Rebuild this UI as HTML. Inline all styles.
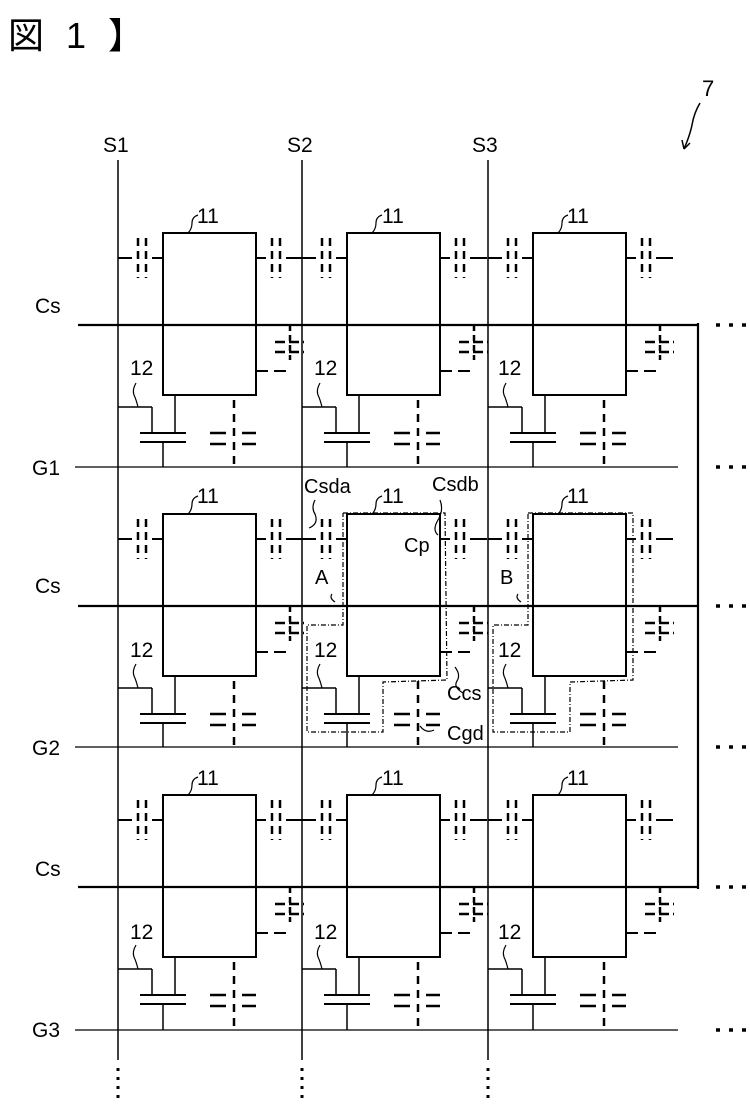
<!DOCTYPE html>
<html><head><meta charset="utf-8"><style>
html,body{margin:0;padding:0;background:#fff;width:750px;height:1105px;overflow:hidden}
svg text{font-family:"Liberation Sans","Noto Sans CJK JP",sans-serif;fill:#000}
</style></head><body>
<svg id="s" width="750" height="1105" viewBox="0 0 750 1105" xmlns="http://www.w3.org/2000/svg">
<text x="8" y="48" font-size="36" letter-spacing="6">図 1 】</text>
<text x="702" y="96" font-size="22">7</text>
<path d="M700 103 q-6 10 -8 22 q-2 10 -8 24 M684 149 l-2 -9 M684 149 l6 -6" stroke="#000" fill="none" stroke-width="1.5"/>
<text x="103" y="152" font-size="21">S1</text>
<text x="287" y="152" font-size="21">S2</text>
<text x="472" y="152" font-size="21">S3</text>
<text x="35" y="313" font-size="21">Cs</text>
<text x="35" y="593" font-size="21">Cs</text>
<text x="35" y="876" font-size="21">Cs</text>
<text x="32" y="475" font-size="21">G1</text>
<text x="32" y="755" font-size="21">G2</text>
<text x="32" y="1037" font-size="21">G3</text>
<text x="304" y="493" font-size="20">Csda</text>
<text x="432" y="491" font-size="20">Csdb</text>
<text x="404" y="552" font-size="20">Cp</text>
<text x="315" y="584" font-size="20">A</text>
<text x="500" y="584" font-size="20">B</text>
<text x="447" y="700" font-size="20">Ccs</text>
<text x="447" y="740" font-size="20">Cgd</text>
<text x="197" y="223" font-size="21">11</text><text x="382" y="223" font-size="21">11</text><text x="567" y="223" font-size="21">11</text>
<text x="197" y="503" font-size="21">11</text><text x="382" y="503" font-size="21">11</text><text x="567" y="503" font-size="21">11</text>
<text x="197" y="785" font-size="21">11</text><text x="382" y="785" font-size="21">11</text><text x="567" y="785" font-size="21">11</text>
<text x="130" y="375" font-size="21">12</text><text x="314" y="375" font-size="21">12</text><text x="498" y="375" font-size="21">12</text>
<text x="130" y="657" font-size="21">12</text><text x="314" y="657" font-size="21">12</text><text x="498" y="657" font-size="21">12</text>
<text x="130" y="939" font-size="21">12</text><text x="314" y="939" font-size="21">12</text><text x="498" y="939" font-size="21">12</text>
<g id="g" stroke="#000" fill="none"></g>
</svg>
<script>
var g=document.getElementById('g'),h='';
function L(x1,y1,x2,y2,w,d){h+='<line x1="'+x1+'" y1="'+y1+'" x2="'+x2+'" y2="'+y2+'" stroke-width="'+(w||1.5)+'"'+(d?' stroke-dasharray="'+d+'"':'')+'/>';}
var S=[118,302,488],CS=[325,606,887],G=[467,747,1030];
S.forEach(function(x){L(x,160,x,1060,1.5);L(x,1068,x,1098,3,'3 6');});
CS.forEach(function(y){L(78,y,698,y,2.2);});
L(698,323,698,889,2.2);
G.forEach(function(y){L(75,y,678,y,1.3);});
[325,467,606,747,887,1030].forEach(function(y){L(716,y,746,y,3.5,'4 9');});
for(var r=0;r<3;r++)for(var c=0;c<3;c++){
 var X=S[c],C=CS[r],Gy=G[r],bl=X+45,br=X+138,bt=C-92,bb=C+70;
 h+='<rect x="'+bl+'" y="'+bt+'" width="'+(br-bl)+'" height="'+(bb-bt)+'" stroke-width="2"/>';
 var cy=C-67;
 L(X,cy,X+14,cy,2);L(X+20,bt+5,X+20,bt+45,2.5,'8 5');L(X+28,bt+5,X+28,bt+45,2.5,'8 5');L(X+34,cy,bl,cy,2);
 L(br,cy,br+10,cy,2);L(br+16,bt+5,br+16,bt+45,2.5,'8 5');L(br+24,bt+5,br+24,bt+45,2.5,'8 5');L(br+30,cy,X+185,cy,2);
 h+='<path d="M'+(bl+25)+' '+bt+' q4 -4 4 -10 q0 -6 6 -8" stroke-width="1.2"/>';
 var cx=X+172;L(cx,C,cx,C+35,2.5,'6 4');L(X+157,C+17,X+186,C+17,2.5,'10 4');L(X+157,C+27,X+186,C+27,2.5,'10 4');
 L(br,C+46,br+12,C+46,2);L(br+18,C+46,br+30,C+46,2);
 var tp=C+108,bp=C+117;
 L(X+57,bb,X+57,tp,1.5);L(X+22,tp,X+68,tp,2);L(X+22,bp,X+68,bp,2);L(X+45,bp,X+45,Gy,1.5);
 L(X,C+82,X+34,C+82,1.5);L(X+34,C+82,X+34,tp,1.5);
 h+='<path d="M'+(X+20)+' '+(C+82)+' q-2 -8 -4 -12 q-2 -5 2 -12" stroke-width="1.2"/>';
 var gx=X+116;L(gx,bb+5,gx,Gy,2.5,'8 6');L(X+92,tp,X+108,tp,2.5);L(X+124,tp,X+138,tp,2.5);L(X+92,tp+11,X+108,tp+11,2.5);L(X+124,tp+11,X+138,tp+11,2.5);
}
var dd='5 2 1 2';
h+='<polyline points="343,513 445,513 447,680 383,682 383,732 307,732 307,625 343,625 343,513" stroke-width="1.2" stroke-dasharray="'+dd+'"/>';
h+='<polyline points="528,513 633,513 633,680 570,682 570,732 493,732 493,625 528,625 528,513" stroke-width="1.2" stroke-dasharray="'+dd+'"/>';
h+='<path d="M315 500 q-4 8 0 14 q4 10 -6 14 M440 500 q4 10 -2 20 q-6 10 0 15 M455 667 q6 8 2 14 q-4 6 6 12 M420 726 q6 8 14 4 M332 594 q-3 4 3 8 M518 594 q-3 4 3 8" stroke-width="1.2"/>';
g.innerHTML=h;
</script>
</body></html>
